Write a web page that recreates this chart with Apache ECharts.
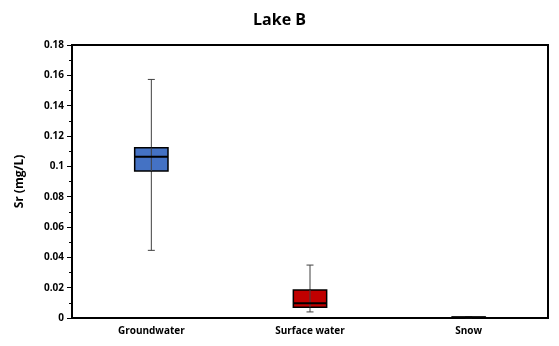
<!DOCTYPE html>
<html><head><meta charset="utf-8">
<script src="https://cdn.jsdelivr.net/npm/echarts@6/dist/echarts.min.js"></script>
<style>html,body{margin:0;padding:0;background:#fff}#c{width:559px;height:346px}</style>
</head><body><div id="c"></div>
<script>
var categories = ['Groundwater', 'Surface water', 'Snow'];
var whiskerLow = [0.0446, 0.0040, 0.0000];
var q1 = [0.0969, 0.0071, 0.0001];
var median = [0.1064, 0.0097, 0.0003];
var q3 = [0.1123, 0.0185, 0.0006];
var whiskerHigh = [0.1573, 0.0349, 0.0007];
var boxColors = ['#4472C4', '#C00000', '#4472C4'];

var data = categories.map(function (c, i) {
  return [i, whiskerLow[i], q1[i], median[i], q3[i], whiskerHigh[i]];
});
var font = 'Open Sans, Liberation Sans, sans-serif';
var chart = echarts.init(document.getElementById('c'));
chart.setOption({
  animation: false,
  title: { text: 'Lake B', left: 'center', top: 7, textStyle: { fontFamily: font, fontWeight: 'bold', fontSize: 16, color: '#000' } },
  grid: { left: 72, right: 11, top: 45, bottom: 28, show: true, borderColor: '#000', borderWidth: 2 },
  xAxis: {
    type: 'category', data: categories,
    axisLine: { lineStyle: { color: '#000', width: 2 } },
    axisTick: { show: false },
    axisLabel: { fontFamily: font, fontWeight: 'bold', fontSize: 10, color: '#000', margin: 8 }
  },
  yAxis: {
    type: 'value', min: 0, max: 0.18, interval: 0.02,
    name: 'Sr (mg/L)', nameLocation: 'middle', nameGap: 46,
    nameTextStyle: { fontFamily: font, fontWeight: 'bold', fontSize: 12, color: '#000' },
    axisLine: { show: true, lineStyle: { color: '#000', width: 2 } },
    axisTick: { show: true, length: 5, lineStyle: { color: '#000' } },
    minorTick: { show: true, splitNumber: 2, length: 3, lineStyle: { color: '#000' } },
    splitLine: { show: false },
    axisLabel: { fontFamily: font, fontWeight: 'bold', fontSize: 10, color: '#000', margin: 8,
      formatter: function (v) { return String(+v.toFixed(2)); } }
  },
  series: [{
    type: 'custom',
    data: data,
    renderItem: function (params, api) {
      var i = api.value(0);
      var lo = api.coord([i, api.value(1)]);
      var b1 = api.coord([i, api.value(2)]);
      var md = api.coord([i, api.value(3)]);
      var b3 = api.coord([i, api.value(4)]);
      var hi = api.coord([i, api.value(5)]);
      var w = api.size([1, 0])[0] * 0.21;
      var cx = lo[0];
      var cap = 3.5;
      var wl = { stroke: '#404040', lineWidth: 1 };
      return {
        type: 'group',
        children: [
          { type: 'line', shape: { x1: cx, y1: hi[1], x2: cx, y2: lo[1] }, style: wl },
          { type: 'line', shape: { x1: cx - cap, y1: hi[1], x2: cx + cap, y2: hi[1] }, style: wl },
          { type: 'line', shape: { x1: cx - cap, y1: lo[1], x2: cx + cap, y2: lo[1] }, style: wl },
          { type: 'rect', shape: { x: cx - w / 2, y: b3[1], width: w, height: b1[1] - b3[1] },
            style: { fill: boxColors[params.dataIndex], stroke: '#000', lineWidth: 1.5 } },
          { type: 'line', shape: { x1: cx, y1: b3[1], x2: cx, y2: b1[1] }, style: wl },
          { type: 'line', shape: { x1: cx - w / 2, y1: md[1], x2: cx + w / 2, y2: md[1] }, style: { stroke: '#000', lineWidth: 2 } }
        ]
      };
    }
  }]
});
</script></body></html>
